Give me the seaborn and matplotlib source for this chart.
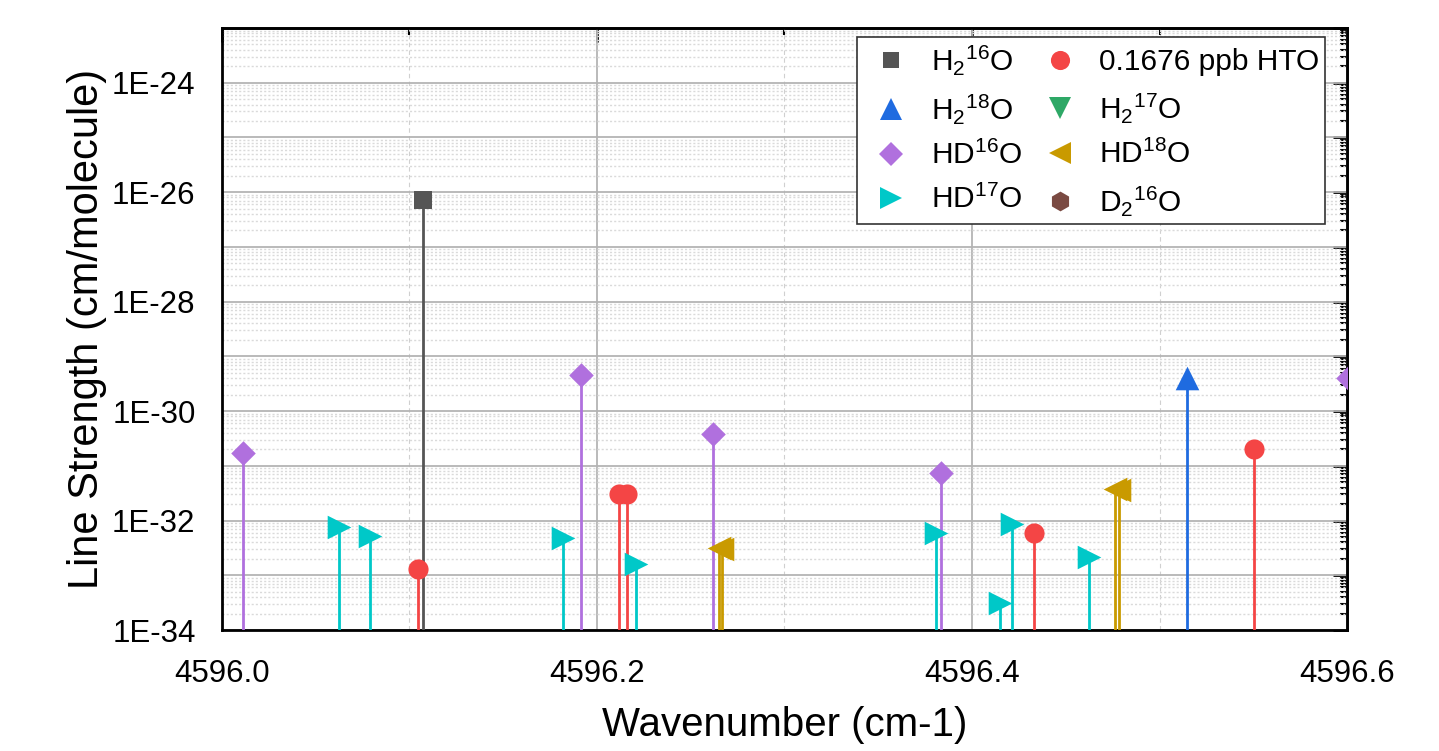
import numpy as np
import pandas as pd
import matplotlib
matplotlib.use("Agg")
import matplotlib.pyplot as plt
import seaborn as sns
from matplotlib.ticker import LogLocator, FuncFormatter, MultipleLocator, FormatStrFormatter, NullFormatter
from matplotlib.lines import Line2D

# ---------------- data ----------------
h2_16o_x = [4596.1072]
h2_16o_s = [7.1e-27]

hto_x = [4596.1045, 4596.2117, 4596.2160, 4596.4331, 4596.5504]
hto_s = [1.3e-33, 3.1e-32, 3.1e-32, 6.0e-33, 2.0e-31]

h2_18o_x = [4596.5147]
h2_18o_s = [4.0e-30]

h2_17o_x = []
h2_17o_s = []

hd_16o_x = [4596.0112, 4596.1915, 4596.2619, 4596.3835, 4596.6005]
hd_16o_s = [1.7e-31, 4.5e-30, 3.8e-31, 7.5e-32, 4.0e-30]

hd_18o_x = [4596.2652, 4596.2668, 4596.4764, 4596.4786]
hd_18o_s = [3.2e-33, 3.0e-33, 3.8e-32, 3.6e-32]

hd_17o_x = [4596.0624, 4596.0789, 4596.1819, 4596.2208, 4596.3808,
            4596.4149, 4596.4213, 4596.4624]
hd_17o_s = [7.5e-33, 5.3e-33, 4.7e-33, 1.6e-33, 5.8e-33,
            3.1e-34, 8.8e-33, 2.2e-33]

d2_16o_x = []
d2_16o_s = []

labels = [r"H$_2$$^{16}$O", r"H$_2$$^{18}$O", r"HD$^{16}$O", r"HD$^{17}$O",
          "0.1676 ppb HTO", r"H$_2$$^{17}$O", r"HD$^{18}$O", r"D$_2$$^{16}$O"]

x_ticks = [4596.0, 4596.2, 4596.4, 4596.6]
y_min, y_max = 1e-34, 1e-23

# ---------------- style ----------------
sns.set_style("white")
plt.rcParams["font.family"] = ["Liberation Sans", "DejaVu Sans"]
plt.rcParams["mathtext.default"] = "regular"
plt.rcParams["text.color"] = "black"
plt.rcParams["axes.labelcolor"] = "black"
plt.rcParams["xtick.color"] = "black"
plt.rcParams["ytick.color"] = "black"

series = [
    (h2_16o_x, h2_16o_s, "#555555", "s", 12.5, labels[0]),
    (h2_18o_x, h2_18o_s, "#1f6be0", "^", 17, labels[1]),
    (hd_16o_x, hd_16o_s, "#b070de", "D", 12.5, labels[2]),
    (hd_17o_x, hd_17o_s, "#00c8c8", ">", 17, labels[3]),
    (hto_x, hto_s, "#f44545", "o", 14.5, labels[4]),
    (h2_17o_x, h2_17o_s, "#2ea866", "v", 17, labels[5]),
    (hd_18o_x, hd_18o_s, "#c99a00", "<", 17, labels[6]),
    (d2_16o_x, d2_16o_s, "#7a4a42", "h", 15, labels[7]),
]

fig = plt.figure(figsize=(14.39, 7.51), dpi=100)
ax = fig.add_axes([222 / 1439, 1 - 630 / 751, 1125 / 1439, 602 / 751])

ax.set_yscale("log")
ax.set_xlim(x_ticks[0], x_ticks[-1])
ax.set_ylim(y_min, y_max)

handles = []
for xs, ss, col, mk, ms, lab in series:
    if len(xs):
        ax.vlines(xs, y_min, ss, colors=col, linewidth=2.0, zorder=3)
        df = pd.DataFrame({"x": xs, "s": ss})
        sns.scatterplot(data=df, x="x", y="s", ax=ax, marker=mk, s=ms ** 2,
                        color=col, linewidth=0, zorder=4, legend=False)
    handles.append(Line2D([], [], ls="none", marker=mk, markersize=ms * 0.95,
                          color=col, markeredgewidth=0, label=lab))

# grids
ax.set_axisbelow(True)
ax.xaxis.set_major_locator(MultipleLocator(0.2))
ax.xaxis.set_minor_locator(MultipleLocator(0.1))
ax.xaxis.set_major_formatter(FormatStrFormatter("%.1f"))
ax.yaxis.set_major_locator(LogLocator(base=10, numticks=30))
ax.yaxis.set_minor_locator(LogLocator(base=10, subs=np.arange(2, 10), numticks=30))
ax.yaxis.set_minor_formatter(NullFormatter())


def yfmt(v, pos):
    if v < y_min * 0.999 or v > y_max * 1.001:
        return ""
    e = int(round(np.log10(v)))
    return f"1E{e}" if e % 2 == 0 else ""


ax.yaxis.set_major_formatter(FuncFormatter(yfmt))

ax.grid(which="major", axis="both", color="#b4b4b4", linewidth=1.3, linestyle="-")
ax.grid(which="minor", axis="y", color="#dadada", linewidth=1.0, linestyle=(0, (1.5, 1.5)))
ax.grid(which="minor", axis="x", color="#d0d0d0", linewidth=0.8, linestyle=(0, (4, 3)))

for sp in ax.spines.values():
    sp.set_linewidth(2.0)
    sp.set_color("black")

ax.tick_params(which="major", direction="out", length=10, width=2, labelsize=22.5, pad=9)
ax.tick_params(which="minor", direction="out", length=5, width=1.5)
ax.tick_params(axis="x", which="major", pad=11)

# mirrored ticks (inward) on top and right
secx = ax.secondary_xaxis("top")
secx.xaxis.set_major_locator(MultipleLocator(0.2))
secx.xaxis.set_minor_locator(MultipleLocator(0.1))
secx.xaxis.set_major_formatter(NullFormatter())
secx.xaxis.set_minor_formatter(NullFormatter())
secx.tick_params(which="major", direction="in", length=10, width=2, labeltop=False)
secx.tick_params(which="minor", direction="in", length=5, width=1.5, labeltop=False)
secx.spines["top"].set_linewidth(2.0)

secy = ax.secondary_yaxis("right")
secy.yaxis.set_major_locator(LogLocator(base=10, numticks=30))
secy.yaxis.set_minor_locator(LogLocator(base=10, subs=np.arange(2, 10), numticks=30))
secy.yaxis.set_major_formatter(NullFormatter())
secy.yaxis.set_minor_formatter(NullFormatter())
secy.tick_params(which="major", direction="in", length=10, width=2, labelright=False)
secy.tick_params(which="minor", direction="in", length=5, width=1.5, labelright=False)
secy.spines["right"].set_linewidth(2.0)

ax.set_xlabel("Wavenumber (cm-1)", fontsize=29, labelpad=12)
ax.set_ylabel("Line Strength (cm/molecule)", fontsize=30, labelpad=4)

leg = ax.legend(handles=handles, ncol=2, loc="upper right",
                bbox_to_anchor=(0.9804, 0.985), borderaxespad=0,
                fontsize=21.5, frameon=True,
                fancybox=False, edgecolor="#333333", framealpha=1,
                handletextpad=0.35, columnspacing=0.3, labelspacing=0.5,
                borderpad=0.2, handlelength=1.93)
leg.get_frame().set_linewidth(1.2)

fig.savefig("out.png", dpi=100)
